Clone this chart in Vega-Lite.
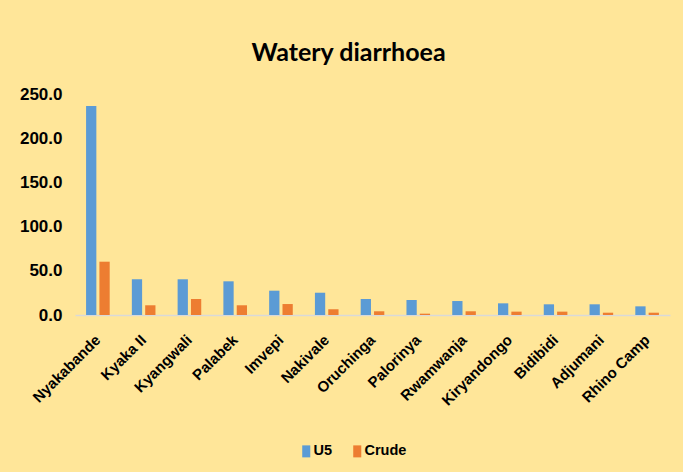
{
  "$schema": "https://vega.github.io/schema/vega-lite/v6.json",
  "width": 595,
  "height": 221,
  "autosize": {"type": "none"},
  "padding": {"left": 75, "top": 94, "right": 13, "bottom": 157},
  "background": "#ffe699",
  "title": {
    "text": "Watery diarrhoea",
    "font": "Lato",
    "fontSize": 25,
    "fontWeight": "bold",
    "color": "#000000",
    "anchor": "middle",
    "baseline": "alphabetic",
    "offset": -1,
    "dx": -24
  },
  "data": {
    "values": [
      {"camp": "Nyakabande", "series": "U5", "value": 236.4},
      {"camp": "Nyakabande", "series": "Crude", "value": 60.3},
      {"camp": "Kyaka II", "series": "U5", "value": 40.4},
      {"camp": "Kyaka II", "series": "Crude", "value": 11.0},
      {"camp": "Kyangwali", "series": "U5", "value": 40.4},
      {"camp": "Kyangwali", "series": "Crude", "value": 18.1},
      {"camp": "Palabek", "series": "U5", "value": 38.1},
      {"camp": "Palabek", "series": "Crude", "value": 11.0},
      {"camp": "Imvepi", "series": "U5", "value": 27.5},
      {"camp": "Imvepi", "series": "Crude", "value": 12.4},
      {"camp": "Nakivale", "series": "U5", "value": 25.2},
      {"camp": "Nakivale", "series": "Crude", "value": 6.4},
      {"camp": "Oruchinga", "series": "U5", "value": 18.1},
      {"camp": "Oruchinga", "series": "Crude", "value": 4.2},
      {"camp": "Palorinya", "series": "U5", "value": 17.0},
      {"camp": "Palorinya", "series": "Crude", "value": 1.5},
      {"camp": "Rwamwanja", "series": "U5", "value": 15.8},
      {"camp": "Rwamwanja", "series": "Crude", "value": 4.2},
      {"camp": "Kiryandongo", "series": "U5", "value": 13.2},
      {"camp": "Kiryandongo", "series": "Crude", "value": 3.8},
      {"camp": "Bidibidi", "series": "U5", "value": 12.1},
      {"camp": "Bidibidi", "series": "Crude", "value": 3.8},
      {"camp": "Adjumani", "series": "U5", "value": 12.1},
      {"camp": "Adjumani", "series": "Crude", "value": 2.6},
      {"camp": "Rhino Camp", "series": "U5", "value": 9.8},
      {"camp": "Rhino Camp", "series": "Crude", "value": 2.6}
    ]
  },
  "mark": {"type": "bar"},
  "encoding": {
    "x": {
      "field": "camp",
      "type": "nominal",
      "sort": null,
      "scale": {"paddingInner": 0, "paddingOuter": 0},
      "axis": {
        "title": null,
        "labelAngle": -45,
        "labelAlign": "right",
        "labelBaseline": "middle",
        "labelPadding": 22,
        "ticks": false,
        "tickSize": 0,
        "labelFont": "Liberation Sans",
        "labelFontSize": 15,
        "labelFontWeight": "bold",
        "labelColor": "#000000",
        "domainColor": "#d9d9d9",
        "domainWidth": 1.5,
        "grid": false
      }
    },
    "xOffset": {
      "field": "series",
      "type": "nominal",
      "sort": ["U5", "Crude"],
      "scale": {"paddingInner": 0.23, "paddingOuter": 0.83}
    },
    "y": {
      "field": "value",
      "type": "quantitative",
      "scale": {"domain": [0, 250], "nice": false},
      "axis": {
        "title": null,
        "values": [0, 50, 100, 150, 200, 250],
        "format": ".1f",
        "grid": false,
        "domain": false,
        "ticks": false,
        "tickSize": 0,
        "labelPadding": 13,
        "labelFont": "Liberation Sans",
        "labelFontSize": 17,
        "labelFontWeight": "bold",
        "labelColor": "#000000"
      }
    },
    "color": {
      "field": "series",
      "type": "nominal",
      "sort": ["U5", "Crude"],
      "scale": {"domain": ["U5", "Crude"], "range": ["#5b9bd5", "#ed7d31"]},
      "legend": {
        "title": null,
        "orient": "none",
        "direction": "horizontal",
        "legendX": 224,
        "legendY": 350,
        "padding": 0,
        "symbolType": "M-0.67,-1L0.67,-1L0.67,1L-0.67,1Z",
        "symbolSize": 144,
        "symbolStrokeWidth": 0,
        "labelOffset": 0,
        "columnPadding": 17,
        "labelFont": "Liberation Sans",
        "labelFontSize": 14.5,
        "labelFontWeight": "bold",
        "labelColor": "#000000"
      }
    }
  },
  "config": {
    "view": {"stroke": null}
  }
}
